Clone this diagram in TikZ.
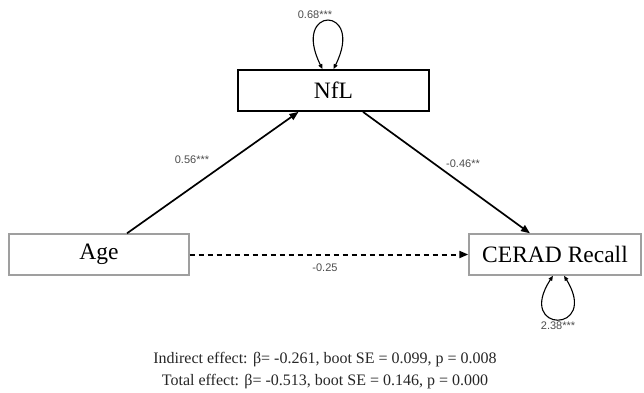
\documentclass[tikz,border=0pt]{standalone}
\usepackage{fontspec}
\setmainfont{Liberation Serif}
\newfontfamily\lblfont{Liberation Sans}
\usetikzlibrary{arrows.meta}
\begin{document}
\begin{tikzpicture}[x=1pt,y=-1pt,
  varbox/.style={draw=gray!75, line width=1.4pt, minimum height=41pt, inner sep=0pt, font=\fontsize{23.5}{26}\selectfont},
  medbox/.style={draw=black, line width=1.8pt, minimum height=41pt, inner sep=0pt, font=\fontsize{23.5}{26}\selectfont},
  path/.style={line width=1.7pt, -{Triangle[length=9pt,width=7pt]}},
  loopar/.style={line width=1.1pt, {Triangle[length=5pt,width=4pt]}-{Triangle[length=5pt,width=4pt]}},
  coef/.style={font=\lblfont\fontsize{11}{13}\selectfont, text=black!70, inner sep=1pt},
  note/.style={font=\fontsize{16}{18}\selectfont, text=black!85, inner sep=0pt}]
\useasboundingbox (0,0) rectangle (644,392);
\node[medbox, minimum width=191pt] (nfl) at (333.5,90.5) {NfL};
\node[varbox, minimum width=180pt] (age) at (99,254.5) {Age};
\node[varbox, minimum width=172pt] (cerad) at (555,254.5) {CERAD Recall};
\draw[path] ([xshift=28pt]age.north) -- ([xshift=-35pt]nfl.south);
\draw[path] ([xshift=29.5pt]nfl.south) -- ([xshift=-25pt]cerad.north);
\draw[path, line width=2pt, dash pattern=on 5pt off 4pt] (age.east) -- (cerad.west);
\coordinate (nl) at ([xshift=-11pt]nfl.north);
\coordinate (nr) at ([xshift=0pt]nfl.north);
\draw[loopar] (nl) .. controls +(-32,-64) and +(32,-64) .. (nr);
\coordinate (cl) at ([xshift=-2pt]cerad.south);
\coordinate (cr) at ([xshift=9pt]cerad.south);
\draw[loopar] (cl) .. controls +(-38,58) and +(36,58) .. (cr);
\node[coef] (l1) at (315,15) {0.68***};
\node[coef] (l2) at (558,326) {2.38***};
\node[coef] (l3) at (192,160) {0.56***};
\node[coef] (l4) at (463,164) {-0.46**};
\node[coef] (l5) at (325,268) {-0.25};
\node[note] (t1) at (325,360) {Indirect effect: β= -0.261, boot SE = 0.099, p = 0.008};
\node[note] (t2) at (325,382) {Total effect: β= -0.513, boot SE = 0.146, p = 0.000};
\end{tikzpicture}
\end{document}
